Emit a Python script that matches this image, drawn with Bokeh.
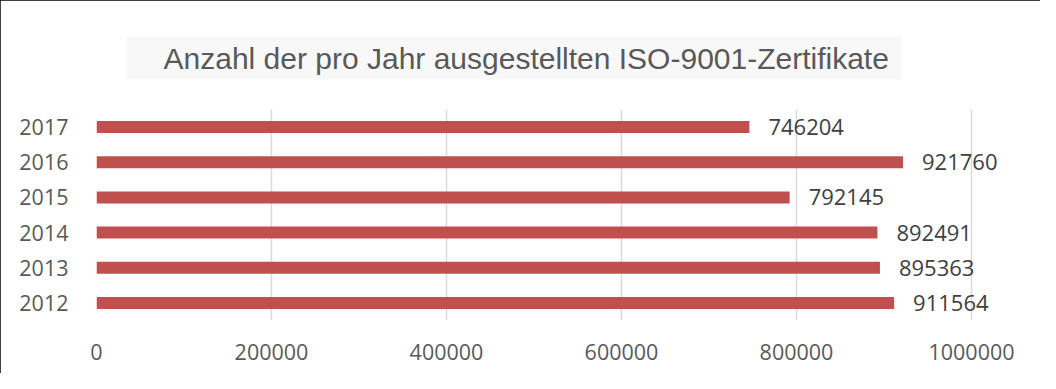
from bokeh.plotting import figure
from bokeh.models import (ColumnDataSource, LabelSet, FixedTicker,
                          NumeralTickFormatter, Range1d)
from bokeh.core.properties import value
from bokeh.embed import file_html
from bokeh.resources import INLINE

years = ["2012", "2013", "2014", "2015", "2016", "2017"]
counts = [911564, 895363, 892491, 792145, 921760, 746204]
x_ticks = [0, 200000, 400000, 600000, 800000, 1000000]
title_text = "Anzahl der pro Jahr ausgestellten ISO-9001-Zertifikate"

W, H = 1040, 373
FL, FT, FB, FR = 96, 109, 320, 1030          # frame edges in canvas px
PX_PER_MILLION = 875
x_max = 1000000 * (FR - FL) / PX_PER_MILLION

src = ColumnDataSource(dict(y=years, x=counts, lbl=[str(c) for c in counts]))

p = figure(width=W, height=H, output_backend="svg", toolbar_location=None,
           y_range=years, x_range=Range1d(0, x_max),
           min_border_left=FL, min_border_right=W - FR,
           min_border_top=FT, min_border_bottom=H - FB)
p.outline_line_color = None
p.background_fill_color = "white"
p.border_fill_color = "white"
p.styles = {"outline": "2px solid black", "outline-offset": "-2px"}

p.title.text = title_text
p.title.align = "left"
p.title.offset = 30
p.title.standoff = 60
p.title.text_font = "Liberation Sans"
p.title.text_font_size = "30px"
p.title.text_font_style = "normal"
p.title.text_color = "#595959"
p.title.background_fill_color = "#f8f8f8"
p.title.padding = (37, 13, 5, 5)

p.hbar(y="y", right="x", left=0, height=0.34, source=src,
       fill_color="#c0504d", line_color=None)

p.add_layout(LabelSet(x="x", y="y", text="lbl", source=src, x_offset=19,
                      text_align="left", text_baseline="middle",
                      text_font=value("Open Sans"), text_font_size="22px",
                      text_color="#404040"))

p.xaxis.ticker = FixedTicker(ticks=x_ticks)
p.xaxis.formatter = NumeralTickFormatter(format="0")
for ax in (p.xaxis[0], p.yaxis[0]):
    ax.axis_line_color = None
    ax.major_tick_line_color = None
    ax.minor_tick_line_color = None
    ax.major_label_text_font = "Open Sans"
    ax.major_label_text_font_size = "21.5px"
    ax.major_label_text_color = "#595959"
p.xaxis.major_label_standoff = 17
p.yaxis.major_label_standoff = 22

p.xgrid.ticker = FixedTicker(ticks=x_ticks)
p.xgrid.grid_line_color = "#d9d9d9"
p.xgrid.grid_line_width = 1.5
p.ygrid.grid_line_color = None

open("out.html", "w").write(file_html(p, INLINE))
